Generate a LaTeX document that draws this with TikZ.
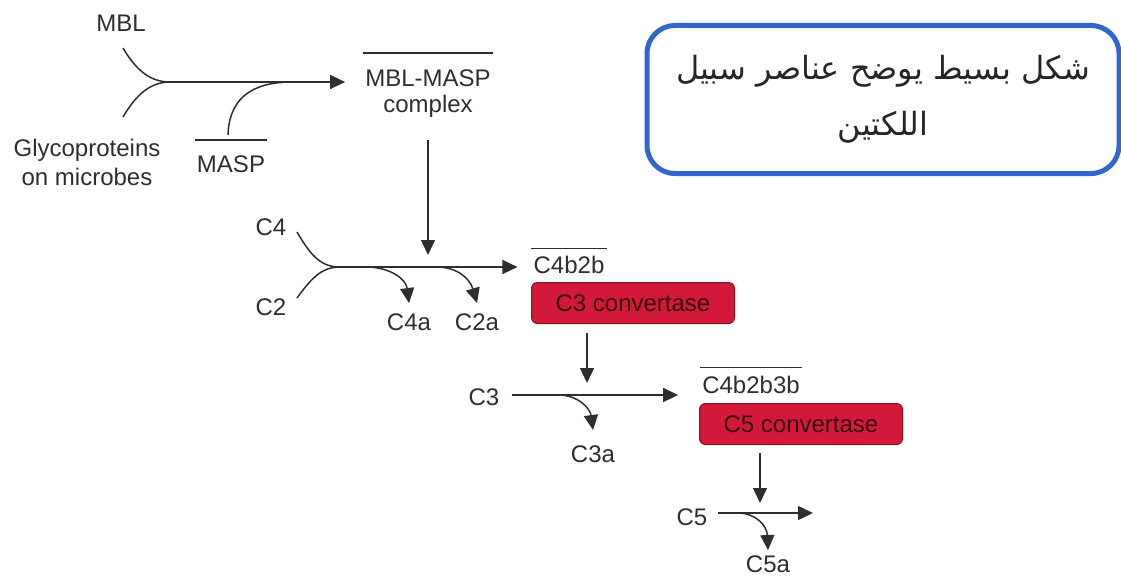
\documentclass[tikz,border=0pt]{standalone}
\usepackage{fontspec}
\setmainfont{Liberation Sans}
\newfontfamily\arabicfont[Script=Arabic]{DejaVu Sans}
\TeXXeTstate=1
\usetikzlibrary{arrows.meta, positioning}
\definecolor{inkgray}{HTML}{2E2E2E}
\definecolor{convred}{HTML}{D2193A}
\definecolor{convedge}{HTML}{8A1020}
\definecolor{convtext}{HTML}{3A0A0E}
\definecolor{noteblue}{HTML}{3366CC}
\tikzset{species/.style={
        font=\fontsize{24}{28}\selectfont, text=inkgray,
        inner sep=2pt, anchor=base,
    },
    convertase box/.style={
        draw=convedge, fill=convred, rounded corners=6pt, line width=1pt,
        minimum width=203pt, minimum height=41pt, inner sep=0pt,
        font=\fontsize{24}{28}\selectfont, text=convtext,
    },
    reaction/.style={
        draw=inkgray, line width=1.5pt, -{Triangle[length=15pt,width=14pt]},
    },
    feed/.style={
        draw=inkgray, line width=1.5pt,
    },
    complex bar/.style={
        draw=inkgray, line width=1.3pt,
    },
    note box/.style={
        draw=noteblue, line width=5pt, rounded corners=28pt,
        minimum width=472pt, minimum height=148pt, align=center,
        font=\arabicfont\fontsize{32}{56}\selectfont, text=black!85,
    },
}

\begin{document}
\begin{tikzpicture}[x=1pt,y=-1pt]
    \useasboundingbox (0,0) rectangle (1121,583);

    %% the starting molecules
        \node [species] (mbl) at (121,32) {MBL};
        \node [species] (glyco) at (87,157) {Glycoproteins};
        \node [species] (microbes) at (87,185) {on microbes};
        \node [species] (masp) at (231,172) {MASP};
        \node [species] (cplx) at (428,87) {MBL-MASP};
        \node [species] (cplxb) at (428,113) {complex};

    %% the bars over the complexes
        \draw [complex bar] ([yshift=13pt]masp.north west) -- ([yshift=13pt]masp.north east);
        \draw [complex bar] ([yshift=15pt]cplx.north west) -- ([yshift=15pt]cplx.north east);

    %% MBL and glycoproteins meet, MASP joins in
        \coordinate (mbl-in) at (123,48);
        \coordinate (gly-in) at (123,117);
        \coordinate (j-mbl) at (170,82);
        \coordinate (masp-in) at (228,135);
        \coordinate (j-masp) at (292,82);
        \draw [feed] (mbl-in) .. controls (136,70) and (150,82) .. (j-mbl);
        \draw [feed] (gly-in) .. controls (136,95) and (150,82) .. (j-mbl);
        \draw [feed] (masp-in) .. controls (229,100) and (250,82) .. (j-masp);
        \draw [reaction, shorten >=18pt] (j-mbl) -- (j-mbl -| cplx.west);

    %% C4 and C2 cleavage
        \node [species] (c4) at (271,235) {C4};
        \node [species] (c2) at (271,315) {C2};
        \node [species] (c4a) at (409,330) {C4a};
        \node [species] (c2a) at (477,330) {C2a};
        \node [species] (cxb) at (569,273) {C4b2b};
        \draw [complex bar] ([yshift=5pt]cxb.north west) -- ([yshift=5pt]cxb.north east);
        \node [convertase box] (c3conv) at (633,303) {C3 convertase};

        \coordinate (c4-in) at (297,232);
        \coordinate (c2-in) at (297,298);
        \coordinate (j-c4) at (340,267);
        \coordinate (b-c4a) at (366,267);
        \coordinate (b-c2a) at (436,267);
        \draw [feed] (c4-in) .. controls (311,256) and (321,267) .. (j-c4);
        \draw [feed] (c2-in) .. controls (311,279) and (321,267) .. (j-c4);
        \draw [reaction, shorten >=14pt] (j-c4) -- (j-c4 -| cxb.west);
        \draw [reaction, shorten <=20pt, shorten >=12pt] (cplxb.south) -- (cplxb.south |- j-c4);
        \draw [reaction] (b-c4a) .. controls (390,267) and (406,279) .. ([yshift=8pt]c4a.north);
        \draw [reaction] (b-c2a) .. controls (458,267) and (470,279) .. ([yshift=8pt]c2a.north);

    %% C3 cleavage
        \node [species] (c3) at (484,405) {C3};
        \node [species] (c3a) at (593,462) {C3a};
        \node [species] (cxbc) at (751,393) {C4b2b3b};
        \draw [complex bar] ([yshift=6pt]cxbc.north west) -- ([yshift=6pt]cxbc.north east);
        \node [convertase box] (c5conv) at (801,424) {C5 convertase};

        \coordinate (c3-drop) at (587,333);
        \coordinate (b-c3a) at (558,395);
        \draw [reaction, shorten >=12pt] (c3-drop) -- (c3-drop |- b-c3a);
        \draw [reaction, shorten <=10pt, shorten >=22pt] (c3.east |- b-c3a) -- (b-c3a -| cxbc.west);
        \draw [reaction] (b-c3a) .. controls (578,395) and (590,408) .. ([yshift=13pt]c3a.north);

    %% C5 cleavage
        \node [species] (c5) at (692,525) {C5};
        \node [species] (c5a) at (768,572) {C5a};

        \coordinate (c5-drop) at (760,453);
        \coordinate (b-c5a) at (738,513);
        \coordinate (c5-out) at (813,513);
        \draw [reaction, shorten >=10pt] (c5-drop) -- (c5-drop |- c5-out);
        \draw [reaction, shorten <=8pt] (c5.east |- c5-out) -- (c5-out);
        \draw [reaction] (b-c5a) .. controls (756,513) and (767,526) .. ([yshift=3pt]c5a.north);

    %% the note
        \node [note box] (note) at (883,99.5) {\beginR شكل بسيط يوضح عناصر سبيل\endR\\\beginR اللكتين\endR};

\end{tikzpicture}
\end{document}
